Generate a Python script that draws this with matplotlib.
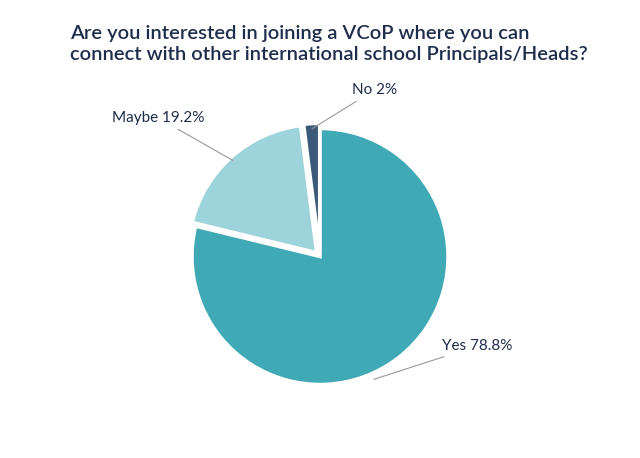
import numpy as np
import matplotlib.pyplot as plt

labels = ["Yes", "Maybe", "No"]
values = [78.8, 19.2, 2.0]
colors = ["#3fa9b5", "#9dd3da", "#3b5a7a"]
title = "Are you interested in joining a VCoP where you can\nconnect with other international school Principals/Heads?"

plt.rcParams['font.family'] = ['Lato', 'DejaVu Sans']

fig = plt.figure(figsize=(6.4, 4.58), dpi=100)
ax = fig.add_axes([0.25, 0.09, 0.5, 0.7])
wedges, _ = ax.pie(values, colors=colors, startangle=90, counterclock=False,
                   explode=[0, 0.04, 0.04], radius=1.0,
                   wedgeprops=dict(edgecolor='white', linewidth=2.5))
ax.set_aspect('equal')

# outside labels with leader lines
label_pos = {"Yes": (0.95, -0.7), "Maybe": (-0.9, 1.08), "No": (0.25, 1.3)}
anchor = {"Yes": 0.9, "Maybe": 0.9, "No": 1.0}
for w, lab, v in zip(wedges, labels, values):
    ang = np.deg2rad((w.theta1 + w.theta2) / 2)
    r = anchor[lab]
    x, y = r * np.cos(ang), r * np.sin(ang)
    if lab == "Maybe":
        x, y = -0.68, 0.75
    if lab == "Yes":
        x, y = 0.42, -0.96
    tx, ty = label_pos[lab]
    ha = 'left' if tx > 0 else 'right'
    ax.annotate(f"{lab} {v:g}%", xy=(x, y), xytext=(tx, ty),
                ha=ha, va='center', fontsize=11, color='#1f2d4d',
                arrowprops=dict(arrowstyle='-', color='#999999', lw=0.8,
                                shrinkA=2, shrinkB=0))

fig.text(0.11, 0.945, title, ha='left', va='top', fontsize=14.5,
         color='#1f2d4d', fontweight='semibold', linespacing=1.3)

fig.savefig("out.png", dpi=100, facecolor='white')
